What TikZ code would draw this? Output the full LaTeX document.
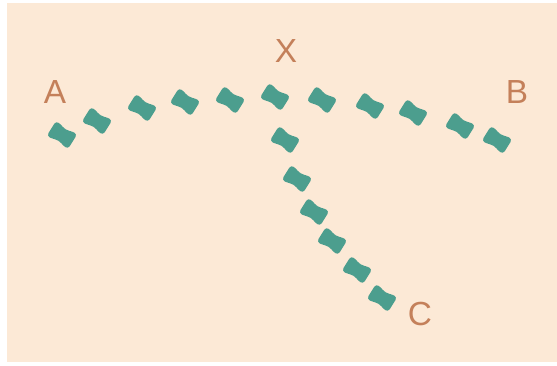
\documentclass[tikz,border=0pt]{standalone}
\usepackage{fontspec}
\setmainfont{Liberation Sans}
\definecolor{PeachBg}{RGB}{252,233,214}
\definecolor{StepTeal}{RGB}{76,158,142}
\definecolor{LabelBrown}{RGB}{196,128,90}

\tikzset{
  paw/.pic={
    \begin{scope}[rotate=-32]
      \fill[StepTeal, rounded corners=2pt] (-12.5,-9) -- (-12.5,9) -- (-5,8) -- (0,6) -- (5,8)
        -- (12.5,9) -- (12.5,-9) -- (5,-8) -- (0,-6) -- (-5,-8) -- cycle;
    \end{scope}
  },
  place/.style={text=LabelBrown, font=\fontsize{19}{19}\selectfont, inner sep=0pt}
}

\begin{document}
\begin{tikzpicture}[x=0.02cm, y=-0.02cm]
\useasboundingbox (0,0) rectangle (557,365);
\fill[white] (0,0) rectangle (557,365);
\fill[PeachBg] (7,3) rectangle (557,362);

% labels
\node[place] (A) at (55,92) {A};
\node[place] (X) at (286,51) {X};
\node[place] (B) at (517,92) {B};
\node[place] (C) at (420,314) {C};

% A to B
\foreach \px/\py in {62/135, 97/121, 142/108, 185/102, 230/100, 275/97,
                     322/100, 370/106, 413/113, 460/126, 497/140}
  \pic at (\px,\py) {paw};

% X to C
\foreach \px/\py in {285/140, 297/179, 314/212, 332/241, 357/270, 382/298}
  \pic at (\px,\py) {paw};
\end{tikzpicture}
\end{document}
